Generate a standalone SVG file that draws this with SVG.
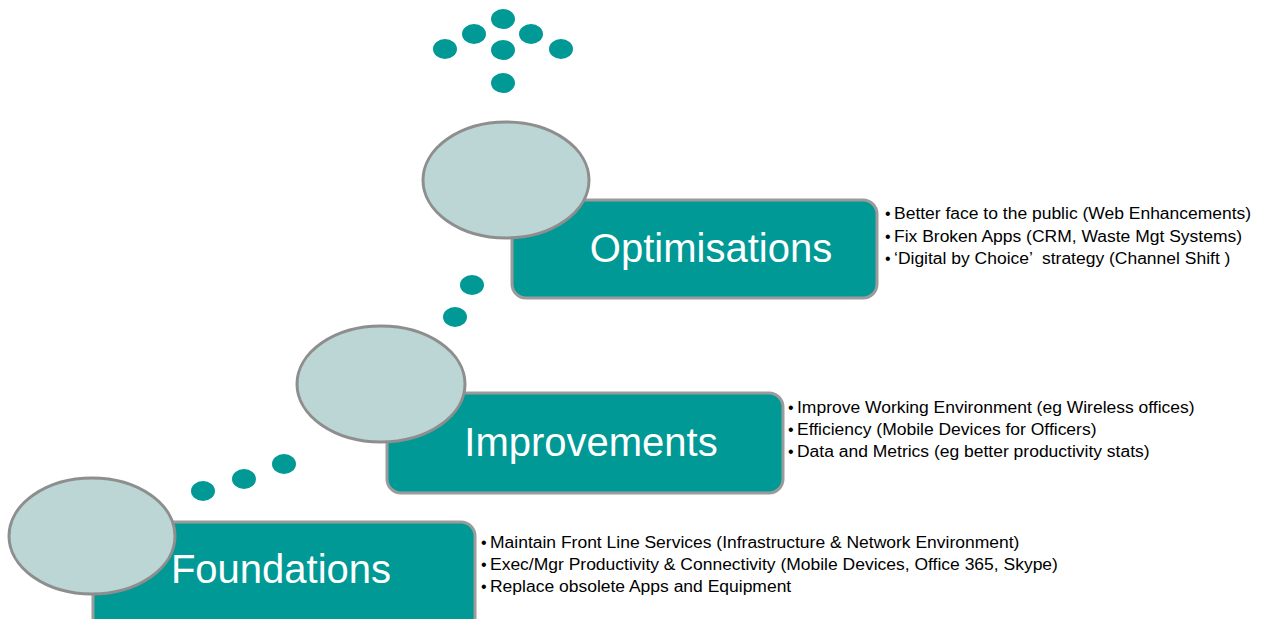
<svg xmlns="http://www.w3.org/2000/svg" width="1269" height="619" viewBox="0 0 1269 619">
<style>
.box{fill:#009996;stroke:#9B9B9B;stroke-width:3}
.ell{fill:#BBD6D5;stroke:#8E8E8E;stroke-width:3}
.dot{fill:#009996}
.title{font-family:"Liberation Sans",Arial,sans-serif;font-size:40px;fill:#FFFFFF;text-anchor:middle}
.item{font-family:"Liberation Sans",Arial,sans-serif;font-size:16px;fill:#000000;white-space:pre}
.bul{font-family:"Liberation Sans",Arial,sans-serif;font-size:16px;fill:#000000}
</style>
<rect width="1269" height="619" fill="#FFFFFF"/>
<g id="dots">
<ellipse class="dot" cx="503" cy="19" rx="12" ry="10"/>
<ellipse class="dot" cx="474" cy="34" rx="12" ry="10"/>
<ellipse class="dot" cx="531" cy="34" rx="12" ry="10"/>
<ellipse class="dot" cx="445" cy="49" rx="12" ry="10"/>
<ellipse class="dot" cx="503" cy="50" rx="12" ry="10"/>
<ellipse class="dot" cx="561" cy="49" rx="12" ry="10"/>
<ellipse class="dot" cx="503" cy="83" rx="12" ry="10"/>
<ellipse class="dot" cx="472" cy="285" rx="12" ry="10"/>
<ellipse class="dot" cx="455" cy="317" rx="12" ry="10"/>
<ellipse class="dot" cx="203" cy="491" rx="12" ry="10"/>
<ellipse class="dot" cx="244" cy="479" rx="12" ry="10"/>
<ellipse class="dot" cx="284" cy="464" rx="12" ry="10"/>
</g>
<g id="optimisations">
<rect class="box" x="512" y="200" width="365" height="98" rx="14"/>
<ellipse class="ell" cx="506" cy="180" rx="83" ry="58"/>
<text class="title" x="711" y="262">Optimisations</text>
<text class="bul"><tspan x="885" y="219">•</tspan><tspan x="885" y="242">•</tspan><tspan x="885" y="264">•</tspan></text>
<text class="item" transform="translate(894 0) scale(1.093 1)"><tspan x="0" y="219">Better face to the public (Web Enhancements)</tspan><tspan x="0" y="242">Fix Broken Apps (CRM, Waste Mgt Systems)</tspan><tspan x="0" y="264">‘Digital by Choice’  strategy (Channel Shift )</tspan></text>
</g>
<g id="improvements">
<rect class="box" x="387" y="393" width="396" height="100" rx="14"/>
<ellipse class="ell" cx="381" cy="384" rx="84" ry="58"/>
<text class="title" x="591" y="456">Improvements</text>
<text class="bul"><tspan x="788" y="413">•</tspan><tspan x="788" y="435">•</tspan><tspan x="788" y="457">•</tspan></text>
<text class="item" transform="translate(797 0) scale(1.093 1)"><tspan x="0" y="413">Improve Working Environment (eg Wireless offices)</tspan><tspan x="0" y="435">Efficiency (Mobile Devices for Officers)</tspan><tspan x="0" y="457">Data and Metrics (eg better productivity stats)</tspan></text>
</g>
<g id="foundations">
<rect class="box" x="93" y="522" width="382" height="110" rx="14"/>
<ellipse class="ell" cx="92" cy="536" rx="83" ry="58"/>
<text class="title" x="281" y="583">Foundations</text>
<text class="bul"><tspan x="481" y="548">•</tspan><tspan x="481" y="570">•</tspan><tspan x="481" y="592">•</tspan></text>
<text class="item" transform="translate(490 0) scale(1.093 1)"><tspan x="0" y="548">Maintain Front Line Services (Infrastructure &amp; Network Environment)</tspan><tspan x="0" y="570">Exec/Mgr Productivity &amp; Connectivity (Mobile Devices, Office 365, Skype)</tspan><tspan x="0" y="592">Replace obsolete Apps and Equipment</tspan></text>
</g>
<g id="connectors"></g>
</svg>
